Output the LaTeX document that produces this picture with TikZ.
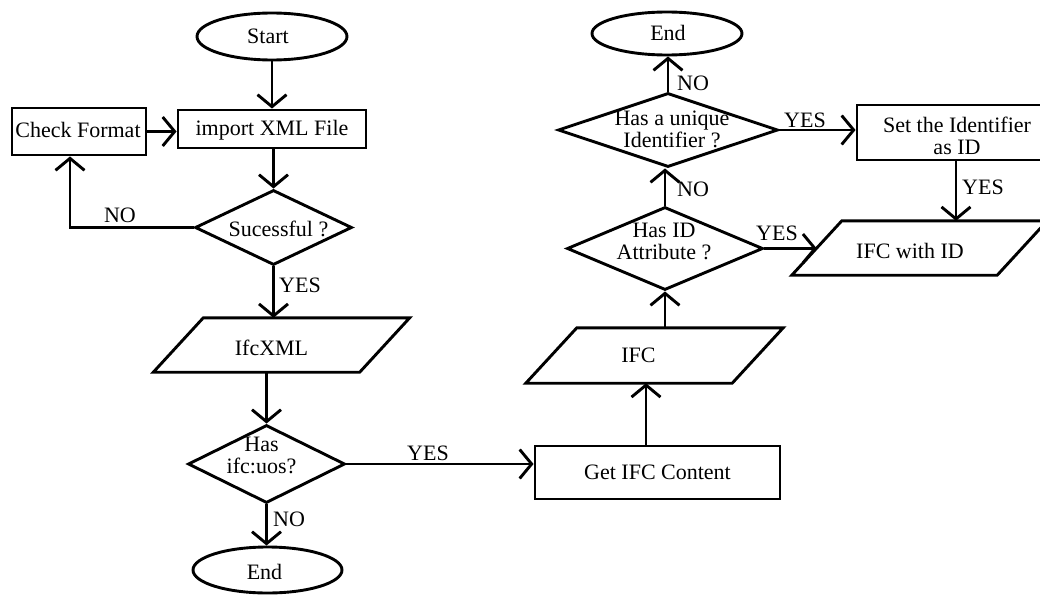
\documentclass[tikz,border=0pt]{standalone}
\usepackage{fontspec}
\setmainfont{Liberation Serif}
\usetikzlibrary{shapes.geometric,arrows.meta}
% Zero-size centred text block: #1 horizontal shift, #2 vertical shift, #3 lines
\newcommand\zt[3]{\raisebox{\dimexpr#2-8pt\relax}[0pt][0pt]{\makebox[0pt]{\kern#1\begin{tabular}{@{}c@{}}#3\end{tabular}\kern-#1}}}
% Outline of a data (parallelogram) node: #1 node name, #2 half of the slant
\newcommand\slantframe[2]{\draw[flow] ([xshift=-#2]#1.south west) -- ([xshift=-#2]#1.south east) -- ([xshift=#2]#1.north east) -- ([xshift=#2]#1.north west) -- cycle;}
\begin{document}
\begin{tikzpicture}[x=1pt,y=-1pt,
  every node/.style={font=\fontsize{22}{22}\selectfont, inner sep=0pt},
  flow/.style={draw, line width=2.9pt},
  term/.style={flow, ellipse},
  proc/.style={flow, rectangle},
  test/.style={flow, diamond},
  data/.style={rectangle},
  arr/.style={line width=2.9pt, -{Straight Barb[length=12pt,width=29pt]}}]
\fill[white] (0,0) rectangle (1040,594);
\useasboundingbox (0,0) rectangle (1040,594);

% left column
\node[term, minimum width=150pt, minimum height=47pt] (start) at (272,36.5) {\zt{-4pt}{0pt}{Start}};
\node[proc, minimum width=188pt, minimum height=38pt] (imp) at (272,129) {\zt{0pt}{1pt}{import XML File}};
\node[proc, minimum width=134pt, minimum height=47pt] (chk) at (79,131.5) {\zt{-1pt}{1pt}{Check Format}};
\node[test, minimum width=157pt, minimum height=75pt] (suc) at (273.5,227.5) {\zt{5pt}{-2pt}{Sucessful ?}};
\node[data, minimum width=206pt, minimum height=54pt] (ifx) at (281.5,345) {\zt{-10pt}{-3pt}{IfcXML}};
\node[test, minimum width=157pt, minimum height=78pt] (uos) at (266.5,464) {\zt{-5pt}{9pt}{Has\\ifc:uos?}};
\node[term, minimum width=149pt, minimum height=46pt] (endb) at (267.5,570) {\zt{-3pt}{-2pt}{End}};

% right part
\node[proc, minimum width=245pt, minimum height=53pt] (get) at (657.5,472.5) {\zt{0pt}{0pt}{Get IFC Content}};
\node[data, minimum width=206pt, minimum height=55pt] (ifc) at (654.5,355.5) {\zt{-16pt}{0pt}{IFC}};
\node[test, minimum width=196pt, minimum height=83pt] (hid) at (665,248.5) {\zt{-1pt}{7.5pt}{Has ID\\Attribute ?}};
\node[test, minimum width=220pt, minimum height=74pt] (uni) at (668,130) {\zt{4pt}{1pt}{Has a unique\\Identifier ?}};
\node[term, minimum width=150pt, minimum height=43pt] (endt) at (667,33.5) {\zt{1pt}{0pt}{End}};
\node[proc, minimum width=198pt, minimum height=55pt] (set) at (956,132.5) {\zt{1pt}{-3.5pt}{Set the Identifier\\as ID}};
\node[data, minimum width=205pt, minimum height=54pt] (ifcid) at (919.5,248) {\zt{-9.5pt}{-3pt}{IFC with ID}};

% parallelogram outlines of the data nodes
\slantframe{ifx}{25pt}
\slantframe{ifc}{25.5pt}
\slantframe{ifcid}{25pt}

% connectors
\coordinate (fold) at (70,227.5);
\draw[arr] (start) -- (imp);
\draw[arr] (chk.east) -- (chk.east -| imp.west);
\draw[arr] (suc.north |- imp.south) -- (suc.north);
\draw[arr] (suc.west) -- (fold) -- (fold |- chk.south);
\draw[arr] (suc.south) -- (suc.south |- ifx.north);
\draw[arr] (uos.north |- ifx.south) -- (uos.north);
\draw[arr] (uos.south) -- (uos.south |- endb.north);
\draw[arr] (uos.east) -- (uos.east -| get.west);
\draw[arr] ([xshift=-11.5pt]get.north) -- ([xshift=-11.5pt]get.north |- ifc.south);
\draw[arr] (hid.south |- ifc.north) -- (hid.south);
\draw[arr] (hid.north) -- (hid.north |- uni.south);
\draw[arr] (uni.north) -- (uni.north |- endt.south);
\draw[arr] (uni.east) -- (uni.east -| set.west);
\draw[arr] (set.south) -- (set.south |- ifcid.north);
\draw[arr] (hid.east) -- (hid.east -| ifcid.west);

% branch labels
\node (lnoa) at (120,215) {NO};
\node (lyesa) at (300,285) {YES};
\node (lnob) at (289,519) {NO};
\node (lyesb) at (428,453) {YES};
\node (lnoc) at (693,83) {NO};
\node (lnod) at (693,189) {NO};
\node (lyesc) at (805,120) {YES};
\node (lyesd) at (983,187) {YES};
\node (lyese) at (777,233) {YES};
\end{tikzpicture}
\end{document}
